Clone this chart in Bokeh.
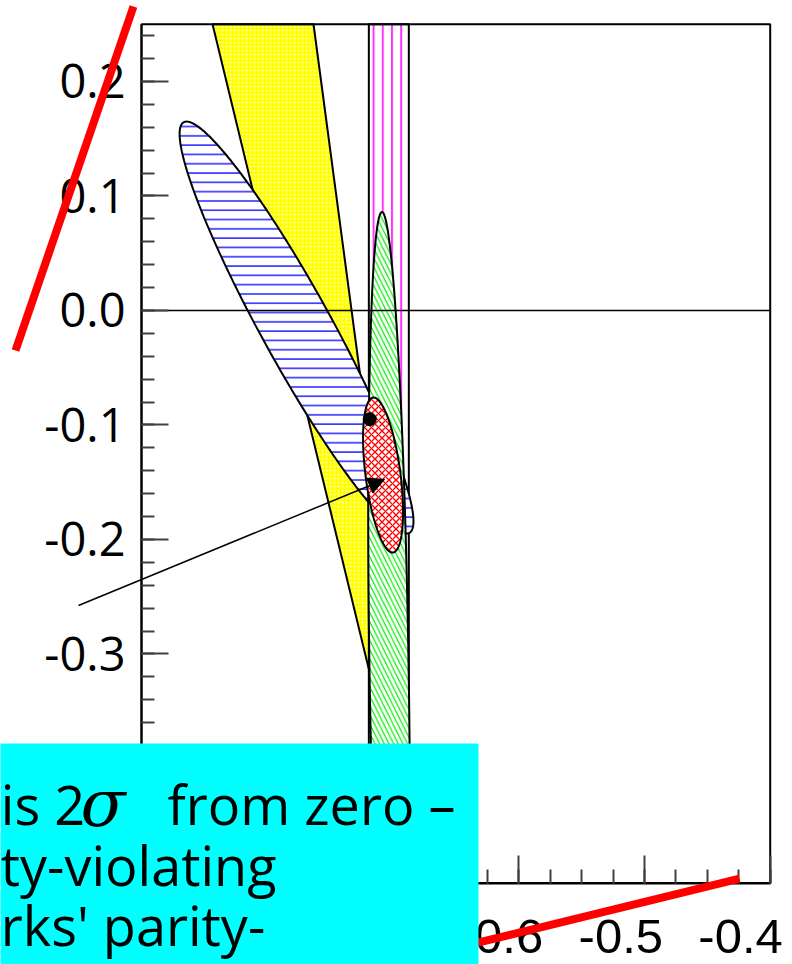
import numpy as np
from bokeh.plotting import figure
from bokeh.models import (Range1d, FixedTicker, LinearAxis, Arrow, NormalHead,
                          Label, BoxAnnotation, PrintfTickFormatter)
from bokeh.embed import file_html
from bokeh.resources import INLINE

# ---------------- plot box (data limits of the framed area) ----------------
x_lo, x_hi = -0.9, -0.4
y_lo, y_hi = -0.5, 0.25
# whole-page view limits (the slide shows decorations outside the framed area)
view_x = (-1.01214, -0.38227)
view_y = (-0.571179, 0.270742)

x_major = [-0.9, -0.8, -0.7, -0.6, -0.5, -0.4]
x_minor = [-0.9, -0.875, -0.85, -0.825, -0.8, -0.775, -0.75, -0.725, -0.7, -0.675,
           -0.65, -0.625, -0.6, -0.575, -0.55, -0.525, -0.5, -0.475, -0.45, -0.425, -0.4]
y_major = [-0.5, -0.4, -0.3, -0.2, -0.1, 0.0, 0.1, 0.2]
y_minor = [-0.5, -0.48, -0.46, -0.44, -0.42, -0.4, -0.38, -0.36, -0.34, -0.32, -0.3,
           -0.28, -0.26, -0.24, -0.22, -0.2, -0.18, -0.16, -0.14, -0.12, -0.1,
           -0.08, -0.06, -0.04, -0.02, 0.0, 0.02, 0.04, 0.06, 0.08, 0.1,
           0.12, 0.14, 0.16, 0.18, 0.2, 0.22, 0.24]
x_label_texts = ["-0.6", "-0.5", "-0.4"]
x_label_pos = [-0.6141, -0.5188, -0.4236]   # labels sit slightly left of their ticks on the slide

# ---------------- contours (centre, half-extents, correlation) ----------------
blue_c = (-0.7767, -0.0149); blue_s = (0.0930, 0.1799); blue_rho = -0.940
green_c = (-0.7031, -0.3153); green_s = (0.01658, 0.4013); green_rho = -0.3415
red_c = (-0.7079, -0.1437); red_s = (0.0159, 0.0677); red_rho = -0.475

# yellow band corners
yellow_x = [-0.8435, -0.7632, -0.6724, -0.6780]
yellow_y = [0.25, 0.25, -0.5, -0.5]
# magenta vertical band
mag_left, mag_right = -0.7192, -0.6874
# Standard-Model point
sm_x, sm_y = [-0.7185], [-0.0949]
# arrow towards the best fit
arrow_start = (-0.9501, -0.2576)
arrow_end = (-0.7067, -0.1476)
# red annotation strokes
red1 = ((-0.9064, 0.2655), (-1.0002, -0.0349))
red2 = ((-0.6383, -0.5537), (-0.4244, -0.4961))
# cyan note box (data coords of its edges)
box_left, box_right, box_top, box_bottom = -1.05, -0.6320, -0.3782, -0.62
note_x = -1.0119
note_lines = ["ty-violating", "rks' parity-"]
note_y = [-0.4306, -0.4847, -0.5371]
sigma_x = -0.9485
from_x = -0.8793


def contour(c, s, rho, n=400):
    t = np.linspace(0, 2 * np.pi, n)
    xs = c[0] + s[0] * np.cos(t)
    ys = c[1] + s[1] * (rho * np.cos(t) + np.sqrt(1 - rho ** 2) * np.sin(t))
    return xs, ys


p = figure(width=792, height=964, x_range=Range1d(*view_x), y_range=Range1d(*view_y),
           output_backend="svg", toolbar_location=None,
           min_border_left=0, min_border_right=0, min_border_top=0, min_border_bottom=0)
p.grid.visible = False
p.outline_line_color = None
p.background_fill_color = "white"
p.border_fill_color = "white"

TICK = "#404040"

# x axis: ticks only, pinned to the bottom of the plot box
xa = p.xaxis[0]
xa.fixed_location = y_lo
xa.bounds = (x_lo, x_hi)
xa.ticker = FixedTicker(ticks=x_major, minor_ticks=x_minor)
xa.major_label_overrides = {v: "" for v in x_major}
xa.major_tick_in = 28
xa.major_tick_out = 0
xa.minor_tick_in = 14
xa.minor_tick_out = 0
xa.axis_line_width = 2
xa.major_tick_line_color = TICK
xa.minor_tick_line_color = TICK
xa.major_tick_line_width = 2
xa.minor_tick_line_width = 2

# x axis labels
xl = LinearAxis(ticker=FixedTicker(ticks=x_label_pos, minor_ticks=[]),
                fixed_location=y_lo,
                major_label_overrides={v: t for v, t in zip(x_label_pos, x_label_texts)},
                axis_line_color=None, major_tick_line_color=None, minor_tick_line_color=None,
                major_tick_in=0, major_tick_out=0, minor_tick_in=0, minor_tick_out=0,
                major_label_standoff=37, major_label_text_font="Liberation Sans",
                major_label_text_font_size="49px", major_label_text_color="black")
p.add_layout(xl, "below")

# y axis pinned to the left of the plot box
ya = p.yaxis[0]
ya.fixed_location = x_lo
ya.bounds = (y_lo, y_hi)
ya.ticker = FixedTicker(ticks=y_major, minor_ticks=y_minor)
ya.formatter = PrintfTickFormatter(format="%.1f")
ya.major_label_text_font = "Open Sans"
ya.major_label_text_font_size = "47px"
ya.major_label_text_color = "black"
ya.major_label_standoff = 16
ya.major_tick_in = 27
ya.major_tick_out = 0
ya.minor_tick_in = 13
ya.minor_tick_out = 0
ya.axis_line_width = 2
ya.major_tick_line_color = TICK
ya.minor_tick_line_color = TICK
ya.major_tick_line_width = 2
ya.minor_tick_line_width = 2

# yellow band
p.patch(yellow_x, yellow_y, fill_color="#ffff00", line_color="black", line_width=2,
        hatch_pattern="dot", hatch_color="white", hatch_scale=4, hatch_alpha=0.8)
# magenta band
p.quad(left=[mag_left], right=[mag_right], bottom=[y_lo], top=[y_hi], fill_alpha=0,
       line_color="black", line_width=2, hatch_pattern="vertical_line",
       hatch_color="#ff33ff", hatch_scale=9.2, hatch_weight=2)
# blue
bx, by = contour(blue_c, blue_s, blue_rho)
p.patch(bx, by, fill_color="white", line_color="black", line_width=2,
        hatch_pattern="horizontal_line", hatch_color="#0000ff", hatch_scale=9.3, hatch_weight=1.3)
# green
gx, gy = contour(green_c, green_s, green_rho)
p.patch(gx, gy, fill_color="white", line_color="black", line_width=2,
        hatch_pattern="left_diagonal_line", hatch_color="#00ee00", hatch_scale=9.3, hatch_weight=1.2)
# red
rx, ry = contour(red_c, red_s, red_rho)
p.patch(rx, ry, fill_color="white", line_color="black", line_width=2,
        hatch_pattern="diagonal_cross", hatch_color="#ff0000", hatch_scale=7, hatch_weight=1.3)

# zero line and plot-box frame
p.segment(x0=[x_lo], y0=[0.0], x1=[x_hi], y1=[0.0], line_color="black", line_width=1.5)
p.quad(left=[x_lo], right=[x_hi], bottom=[y_lo], top=[y_hi], fill_color=None,
       line_color="black", line_width=2)

p.scatter(sm_x, sm_y, size=13, color="black")

p.add_layout(Arrow(end=NormalHead(size=16, fill_color="black", line_color="black"),
                   x_start=arrow_start[0], y_start=arrow_start[1],
                   x_end=arrow_end[0], y_end=arrow_end[1], line_width=1.5, line_color="black"))

for seg in (red1, red2):
    p.add_layout(Arrow(end=None, x_start=seg[0][0], y_start=seg[0][1],
                       x_end=seg[1][0], y_end=seg[1][1], line_width=8, line_color="#ff0000"))

p.add_layout(BoxAnnotation(left=box_left, right=box_right, top=box_top, bottom=box_bottom,
                           fill_color="#00ffff", fill_alpha=1, line_color=None))

FONT_NOTE = "Open Sans"
p.add_layout(Label(x=note_x, y=note_y[0], text="is 2", text_font=FONT_NOTE,
                   text_font_size="54px", text_color="black", text_baseline="alphabetic"))
p.add_layout(Label(x=sigma_x, y=note_y[0], text="σ", text_font="DejaVu Serif",
                   text_font_style="italic", text_font_size="66px", text_color="black",
                   text_baseline="alphabetic"))
p.add_layout(Label(x=from_x, y=note_y[0], text="from zero –", text_font=FONT_NOTE,
                   text_font_size="54px", text_color="black", text_baseline="alphabetic"))
for t, yy in zip(note_lines, note_y[1:]):
    p.add_layout(Label(x=note_x, y=yy, text=t, text_font=FONT_NOTE,
                       text_font_size="54px", text_color="black", text_baseline="alphabetic"))

open("out.html", "w").write(file_html(p, INLINE))
